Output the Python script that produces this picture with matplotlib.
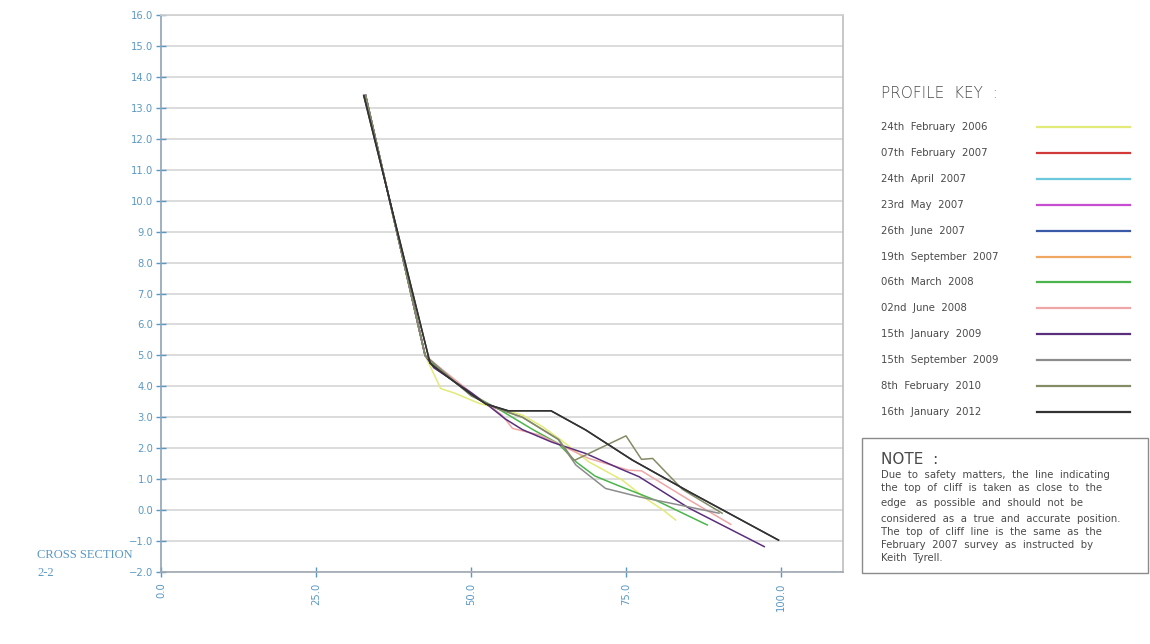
import matplotlib
matplotlib.use("Agg")
import matplotlib.pyplot as plt
from matplotlib.lines import Line2D
from matplotlib.patches import Rectangle

# survey dates shown in the profile key, in key order
dates = ["24th  February  2006", "07th  February  2007", "24th  April  2007",
         "23rd  May  2007", "26th  June  2007", "19th  September  2007",
         "06th  March  2008", "02nd  June  2008", "15th  January  2009",
         "15th  September  2009", "8th  February  2010", "16th  January  2012"]
colors = ["#e2ea78", "#d23a3a", "#6cc8dc", "#c64cd0", "#3a5aa8", "#f0a860",
          "#4cb44c", "#efa6a6", "#5a2e7c", "#8c8c8c", "#848c66", "#333333"]

# profiles (chainage m, level m)
feb06_x = [33.0, 42.6, 44.0, 45.1, 47.5, 51.3, 55.0, 58.3, 61.5, 64.5, 69.0, 74.4, 78.0, 81.0, 83.0]
feb06_y = [13.4, 5.0, 4.4, 3.93, 3.77, 3.45, 3.25, 3.07, 2.7, 2.27, 1.56, 0.97, 0.4, 0.0, -0.32]
feb07_x = [33.0, 42.6]
feb07_y = [13.4, 5.0]
apr07_x = [33.0, 42.6]
apr07_y = [13.4, 5.0]
may07_x = [33.0, 42.6]
may07_y = [13.4, 5.0]
jun07_x = [33.0, 42.6]
jun07_y = [13.4, 5.0]
sep07_x = [33.0, 42.6]
sep07_y = [13.4, 5.0]
mar08_x = [33.0, 42.6, 45.0, 50.0, 55.0, 60.0, 64.0, 67.0, 70.0, 73.9, 80.0, 88.1]
mar08_y = [13.4, 5.0, 4.5, 3.75, 3.2, 2.6, 2.16, 1.55, 1.1, 0.78, 0.3, -0.48]
jun08_x = [33.0, 42.6, 45.0, 50.0, 55.0, 56.7, 61.0, 65.0, 69.0, 75.4, 77.5, 85.0, 91.9]
jun08_y = [13.4, 5.0, 4.6, 3.8, 3.07, 2.64, 2.43, 2.05, 1.67, 1.29, 1.27, 0.35, -0.46]
jan09_x = [33.0, 42.6, 44.0, 47.0, 50.0, 53.0, 55.5, 58.3, 63.0, 68.5, 73.9, 77.1, 85.2, 97.3]
jan09_y = [13.4, 5.0, 4.6, 4.2, 3.8, 3.35, 2.95, 2.6, 2.2, 1.83, 1.35, 1.08, 0.06, -1.18]
sep09_x = [33.0, 42.6, 46.0, 50.0, 54.0, 58.3, 64.0, 66.9, 71.7, 77.1, 84.0, 90.0]
sep09_y = [13.4, 5.0, 4.4, 3.7, 3.3, 3.0, 2.3, 1.46, 0.7, 0.43, 0.15, -0.1]
feb10_x = [33.0, 42.6, 45.0, 50.0, 54.0, 58.3, 64.2, 66.6, 69.0, 75.0, 77.5, 79.3, 84.1, 90.5]
feb10_y = [13.4, 5.0, 4.55, 3.7, 3.3, 3.0, 2.27, 1.6, 1.83, 2.4, 1.64, 1.67, 0.67, -0.1]
jan12_x = [32.7, 43.4, 44.8, 50.0, 52.4, 56.0, 62.9, 68.5, 76.0, 85.2, 99.6]
jan12_y = [13.4, 4.75, 4.52, 3.75, 3.43, 3.21, 3.21, 2.59, 1.62, 0.59, -0.97]

profiles = [(feb06_x, feb06_y), (feb07_x, feb07_y), (apr07_x, apr07_y),
            (may07_x, may07_y), (jun07_x, jun07_y), (sep07_x, sep07_y),
            (mar08_x, mar08_y), (jun08_x, jun08_y), (jan09_x, jan09_y),
            (sep09_x, sep09_y), (feb10_x, feb10_y), (jan12_x, jan12_y)]

x_ticks = [0, 25, 50, 75, 100]
y_ticks = list(range(-2, 17))

note_lines = ["Due  to  safety  matters,  the  line  indicating",
              "the  top  of  cliff  is  taken  as  close  to  the",
              "edge   as  possible  and  should  not  be",
              "considered  as  a  true  and  accurate  position.",
              "The  top  of  cliff  line  is  the  same  as  the",
              "February  2007  survey  as  instructed  by",
              "Keith  Tyrell."]

W, H = 1150, 644
tick_blue = "#5a98c4"
text_grey = "#4a4a4a"

fig = plt.figure(figsize=(W / 100, H / 100), dpi=100)
ax = fig.add_axes([161 / W, 1 - 572 / H, (843 - 161) / W, (572 - 15) / H])

for (xs, ys), c in zip(profiles, colors):
    ax.plot(xs, ys, color=c, lw=1.1, zorder=3)
# redraw the latest survey on top
ax.plot(jan12_x, jan12_y, color=colors[-1], lw=1.1, zorder=4)

ax.set_xlim(0, 110)
ax.set_ylim(-2, 16)
ax.set_xticks(x_ticks)
ax.set_xticklabels([f"{v:.1f}" for v in x_ticks], rotation=90)
ax.set_yticks(y_ticks)
ax.set_yticklabels([f"{v:.1f}".replace("-", "\u2212") for v in y_ticks])
ax.grid(axis="y", color="#dcdcdc", lw=1.4, zorder=0)
ax.tick_params(axis="both", direction="inout", length=7, width=1,
               color=tick_blue, labelcolor=tick_blue, labelsize=7.2)
ax.tick_params(axis="y", pad=2)
ax.tick_params(axis="x", pad=4)
ax.spines["left"].set_color("#8fa3b8")
ax.spines["bottom"].set_color("#a0a8b0")
ax.spines["top"].set_color("#d0d0d0")
ax.spines["right"].set_color("#bdbdbd")
for s in ax.spines.values():
    s.set_linewidth(1.2)

fig.text(37 / W, 1 - 555 / H, "CROSS SECTION", family="Liberation Serif",
         fontsize=9, color=tick_blue, va="center", ha="left")
fig.text(37 / W, 1 - 573 / H, "2-2", family="Liberation Serif",
         fontsize=9, color=tick_blue, va="center", ha="left")

# profile key
fig.text(881 / W, 1 - 94 / H, "PROFILE  KEY  :", fontsize=11, color=text_grey,
         va="center", ha="left", fontweight="light")
for i, (d, c) in enumerate(zip(dates, colors)):
    yy = 1 - (127.3 + i * 25.85) / H
    fig.text(881 / W, yy, d, fontsize=7.3, color=text_grey, va="center", ha="left")
    fig.add_artist(Line2D([1037 / W, 1130 / W], [yy, yy], color=c, lw=1.6,
                          transform=fig.transFigure))

# note box
fig.add_artist(Rectangle((862 / W, 1 - 573 / H), (1148 - 862) / W, (573 - 438) / H,
                         transform=fig.transFigure, fill=False,
                         edgecolor="#8a8a8a", lw=1.0))
fig.text(881 / W, 1 - 459 / H, "NOTE  :", fontsize=11, color=text_grey,
         va="center", ha="left")
for yp, line in zip([475, 488, 503, 519, 532, 545, 558], note_lines):
    fig.text(881 / W, 1 - yp / H, line, fontsize=7.3, color=text_grey,
             va="center", ha="left")

fig.savefig("out.png", dpi=100)
